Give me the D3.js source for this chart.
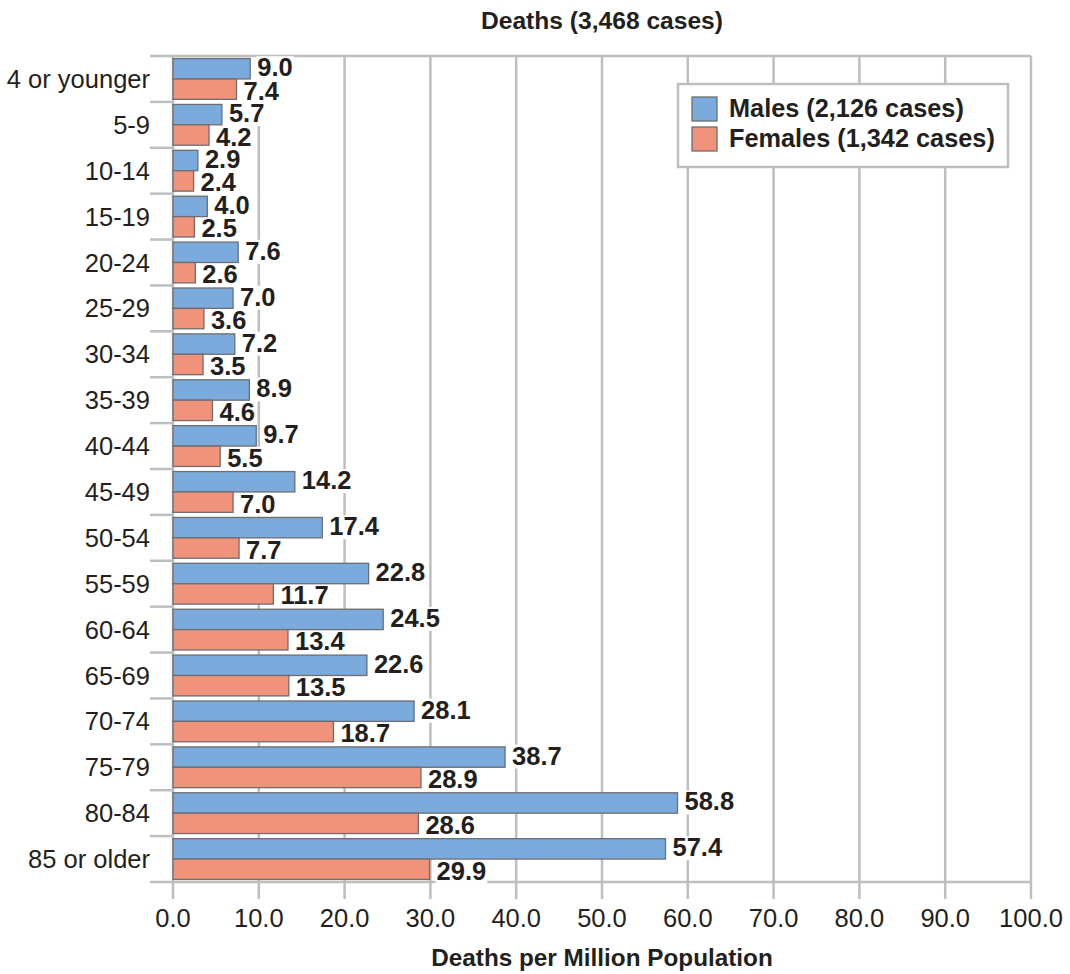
<!DOCTYPE html>
<html><head><meta charset="utf-8">
<script src="https://cdn.jsdelivr.net/npm/d3@7"></script>
<style>
html,body{margin:0;padding:0;background:#fff;}
svg{display:block;}
text{font-family:"Liberation Sans",Arial,sans-serif;fill:#231f20;}
</style></head>
<body>
<svg id="chart" width="1070" height="974"></svg>
<script>
const categories = ["4 or younger","5-9","10-14","15-19","20-24","25-29","30-34","35-39","40-44","45-49","50-54","55-59","60-64","65-69","70-74","75-79","80-84","85 or older"];
const males   = [9.0,5.7,2.9,4.0,7.6,7.0,7.2,8.9,9.7,14.2,17.4,22.8,24.5,22.6,28.1,38.7,58.8,57.4];
const females = [7.4,4.2,2.4,2.5,2.6,3.6,3.5,4.6,5.5,7.0,7.7,11.7,13.4,13.5,18.7,28.9,28.6,29.9];
const seriesNames = ["Males (2,126 cases)","Females (1,342 cases)"];
const seriesKeys = ["m","f"];
const xTicks = [0,10,20,30,40,50,60,70,80,90,100];
const title = "Deaths (3,468 cases)";
const xTitle = "Deaths per Million Population";

(function(){
const colors = {m:"#7baadd", f:"#f0937a"};
const gridColor = "#bcbec0";
const barStroke = "#6d6e71";

const data = categories.map((c,i)=>({cat:c, m:males[i], f:females[i]}));

const svg = d3.select("#chart");
const pLeft = 173, pRight = 1031, pTop = 56, pBottom = 882;

const x = d3.scaleLinear().domain([0,100]).range([pLeft,pRight]);
const y = d3.scaleBand().domain(categories).range([pTop,pBottom]).paddingInner(0).paddingOuter(0);
const yi = d3.scaleBand().domain(seriesKeys).range([0,y.bandwidth()]).paddingInner(0).paddingOuter(0.125);

const g = svg.append("g");

g.selectAll("line.vgrid").data(xTicks).join("line")
  .attr("x1",d=>x(d)).attr("x2",d=>x(d))
  .attr("y1",pTop).attr("y2",pBottom+17)
  .attr("stroke",gridColor).attr("stroke-width",2.5);

[pTop,pBottom].forEach(yy=>{
  g.append("line").attr("x1",150).attr("x2",pRight).attr("y1",yy).attr("y2",yy)
   .attr("stroke",gridColor).attr("stroke-width",2.5);
});
g.selectAll("line.ctick").data(categories.slice(1)).join("line")
  .attr("x1",150).attr("x2",pLeft)
  .attr("y1",d=>y(d)).attr("y2",d=>y(d))
  .attr("stroke",gridColor).attr("stroke-width",2.5);

g.selectAll("text.xt").data(xTicks).join("text")
  .attr("x",d=>x(d)).attr("y",927)
  .attr("text-anchor","middle")
  .style("font-size","25.5px")
  .text(d=>d.toFixed(1));

g.selectAll("text.cat").data(categories).join("text")
  .attr("x",150).attr("y",d=>y(d)+y.bandwidth()/2+9)
  .attr("text-anchor","end")
  .style("font-size","25.5px")
  .text(d=>d);

const flat = [];
data.forEach(d=>seriesKeys.forEach(k=>flat.push({cat:d.cat,key:k,v:d[k]})));

const labelG = svg.append("g");
const barG = svg.append("g");
const textG = svg.append("g");

barG.selectAll("rect").data(flat).join("rect")
  .attr("x",x(0)).attr("y",d=>y(d.cat)+yi(d.key))
  .attr("width",d=>x(d.v)-x(0)).attr("height",yi.bandwidth())
  .attr("fill",d=>colors[d.key]).attr("stroke",barStroke).attr("stroke-width",1.3);

const texts = textG.selectAll("text").data(flat).join("text")
  .attr("x",d=>x(d.v)+7)
  .attr("y",d=>y(d.cat)+yi(d.key)+yi.bandwidth()/2+(d.key==="m"?7.5:10.5))
  .style("font-size","25.5px").style("font-weight","bold")
  .text(d=>d.v.toFixed(1));

texts.each(function(){
  const b = this.getBBox();
  labelG.append("rect").attr("x",b.x-1).attr("y",b.y+3).attr("width",b.width+2).attr("height",b.height-4)
    .attr("fill","#fff");
});

svg.append("text").attr("x",(pLeft+pRight)/2).attr("y",29).attr("text-anchor","middle")
  .style("font-size","24.6px").style("font-weight","bold").text(title);
svg.append("text").attr("x",(pLeft+pRight)/2).attr("y",966).attr("text-anchor","middle")
  .style("font-size","24.3px").style("font-weight","bold").text(xTitle);

const lg = svg.append("g");
lg.append("rect").attr("x",678).attr("y",84).attr("width",330).attr("height",83)
  .attr("fill","#fff").attr("stroke",gridColor).attr("stroke-width",2.5);
seriesKeys.forEach((k,i)=>{
  lg.append("rect").attr("x",692).attr("y",97+i*30).attr("width",25).attr("height",24)
    .attr("fill",colors[k]).attr("stroke",barStroke).attr("stroke-width",1.3);
  lg.append("text").attr("x",729).attr("y",117+i*30)
    .style("font-size","25.3px").style("font-weight","bold").text(seriesNames[i]);
});
})();
</script>
</body></html>
